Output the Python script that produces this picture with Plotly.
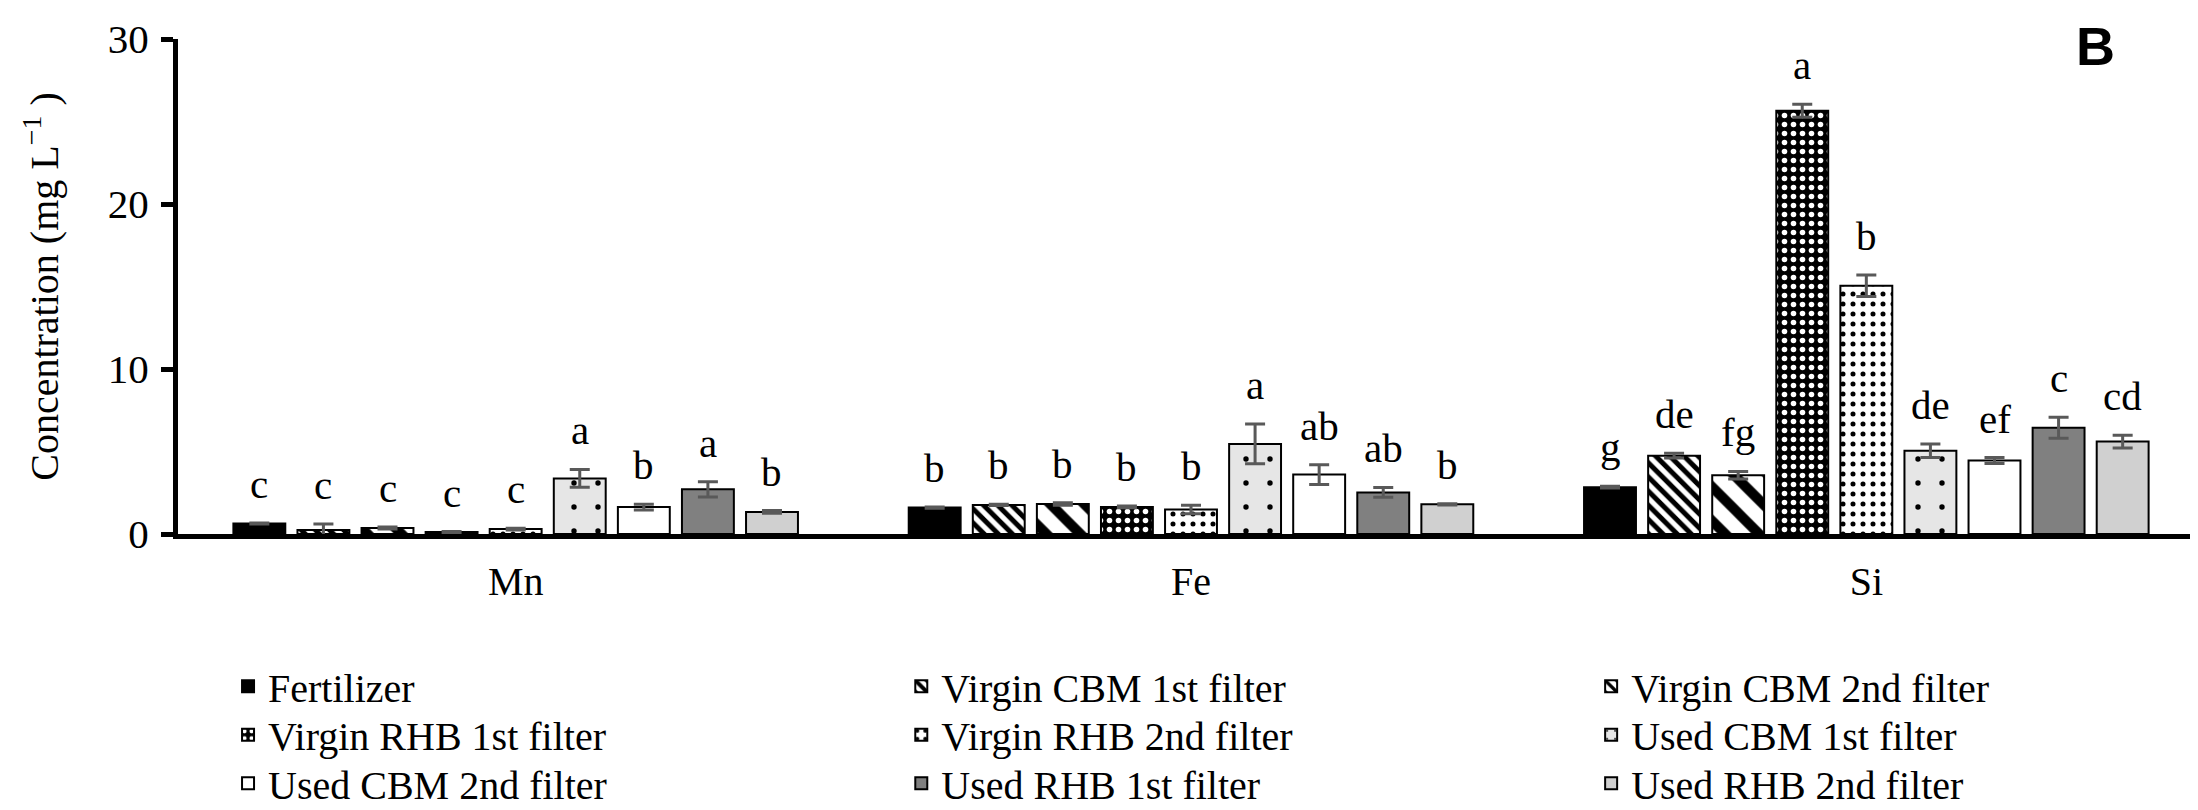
import plotly.graph_objects as go

elements = ["Mn", "Fe", "Si"]
series_names = [
    "Fertilizer", "Virgin CBM 1st filter", "Virgin CBM 2nd filter",
    "Virgin RHB 1st filter", "Virgin RHB 2nd filter", "Used CBM 1st filter",
    "Used CBM 2nd filter", "Used RHB 1st filter", "Used RHB 2nd filter",
]

fertilizer = [0.64, 1.60, 2.84]
fertilizer_err = [0.03, 0.04, 0.05]
fertilizer_sig = ["c", "b", "g"]

virgin_cbm1 = [0.25, 1.76, 4.75]
virgin_cbm1_err = [0.35, 0.04, 0.15]
virgin_cbm1_sig = ["c", "b", "de"]

virgin_cbm2 = [0.37, 1.82, 3.56]
virgin_cbm2_err = [0.06, 0.08, 0.23]
virgin_cbm2_sig = ["c", "b", "fg"]

virgin_rhb1 = [0.12, 1.64, 25.65]
virgin_rhb1_err = [0.03, 0.05, 0.39]
virgin_rhb1_sig = ["c", "b", "a"]

virgin_rhb2 = [0.30, 1.48, 15.05]
virgin_rhb2_err = [0.05, 0.26, 0.65]
virgin_rhb2_sig = ["c", "b", "b"]

used_cbm1 = [3.37, 5.46, 5.05]
used_cbm1_err = [0.54, 1.20, 0.41]
used_cbm1_sig = ["a", "a", "de"]

used_cbm2 = [1.63, 3.60, 4.45]
used_cbm2_err = [0.17, 0.60, 0.18]
used_cbm2_sig = ["b", "ab", "ef"]

used_rhb1 = [2.71, 2.52, 6.44]
used_rhb1_err = [0.46, 0.30, 0.63]
used_rhb1_sig = ["a", "ab", "c"]

used_rhb2 = [1.34, 1.80, 5.60]
used_rhb2_err = [0.08, 0.04, 0.39]
used_rhb2_sig = ["b", "b", "cd"]

values = [fertilizer, virgin_cbm1, virgin_cbm2, virgin_rhb1, virgin_rhb2,
          used_cbm1, used_cbm2, used_rhb1, used_rhb2]
errors = [fertilizer_err, virgin_cbm1_err, virgin_cbm2_err, virgin_rhb1_err,
          virgin_rhb2_err, used_cbm1_err, used_cbm2_err, used_rhb1_err, used_rhb2_err]
letters = [fertilizer_sig, virgin_cbm1_sig, virgin_cbm2_sig, virgin_rhb1_sig,
           virgin_rhb2_sig, used_cbm1_sig, used_cbm2_sig, used_rhb1_sig, used_rhb2_sig]

# styles
styles = [
    dict(color="black", pattern=None),
    dict(color="white", pattern=dict(shape="\\", fgcolor="black", bgcolor="white", size=10, solidity=0.5, fillmode="replace")),
    dict(color="white", pattern=dict(shape="\\", fgcolor="black", bgcolor="white", size=24, solidity=0.42, fillmode="replace")),
    dict(color="black", pattern=dict(shape=".", fgcolor="white", bgcolor="black", size=9, solidity=0.3, fillmode="replace")),
    dict(color="white", pattern=dict(shape=".", fgcolor="black", bgcolor="white", size=10, solidity=0.2, fillmode="replace")),
    dict(color="#e6e6e6", pattern=dict(shape=".", fgcolor="black", bgcolor="#e6e6e6", size=24, solidity=0.04, fillmode="replace")),
    dict(color="white", pattern=None),
    dict(color="#808080", pattern=None),
    dict(color="#d0d0d0", pattern=None),
]

SERIF = "Liberation Serif, Times New Roman, serif"
BARGAP = 0.146
GROUPGAP = 0.19
legend_ids = ["legend"] + [f"legend{i}" for i in range(2, 10)]
legend_x = [0.0247, 0.357, 0.6975]
legend_y = [-0.242, -0.34, -0.438]

fig = go.Figure()
for k, name in enumerate(series_names):
    st = styles[k]
    marker = dict(color=st["color"], line=dict(color="black", width=2))
    if st["pattern"] is not None:
        marker["pattern"] = st["pattern"]
    fig.add_trace(go.Bar(
        x=elements, y=values[k], name=name, marker=marker,
        error_y=dict(type="data", array=errors[k], visible=True,
                     color="#595959", thickness=3, width=10),
        legend=legend_ids[k],
    ))

# significance letters
slot = (1 - BARGAP) / len(series_names)
annotations = []
for k in range(len(series_names)):
    for gi in range(len(elements)):
        annotations.append(dict(
            x=gi + (k - (len(series_names) - 1) / 2) * slot,
            y=values[k][gi] + errors[k][gi],
            xref="x", yref="y", text=letters[k][gi], showarrow=False,
            yanchor="bottom", yshift=14,
            font=dict(family=SERIF, size=41, color="black"),
        ))
annotations.append(dict(
    x=0.957, y=0.985, xref="paper", yref="paper", text="<b>B</b>",
    showarrow=False, xanchor="right", yanchor="middle",
    font=dict(family="Liberation Sans, Arial, sans-serif", size=54, color="black"),
))

legend_layouts = {}
for k, lid in enumerate(legend_ids):
    legend_layouts[lid] = dict(
        orientation="v", yanchor="top", xanchor="left",
        x=legend_x[k % 3], y=legend_y[k // 3],
        font=dict(family=SERIF, size=40, color="black"),
        bgcolor="rgba(0,0,0,0)", tracegroupgap=0, itemwidth=30,
    )

fig.update_layout(
    width=2198, height=810,
    margin=dict(l=170, r=2, t=31, b=279),
    paper_bgcolor="white", plot_bgcolor="white",
    barmode="group", bargap=BARGAP, bargroupgap=GROUPGAP,
    font=dict(family=SERIF, size=40, color="black"),
    showlegend=True,
    annotations=annotations,
    xaxis=dict(
        type="category", range=[-0.5, 2.5], showline=True, linecolor="black",
        linewidth=5, ticks="", showgrid=False, zeroline=False,
        tickfont=dict(family=SERIF, size=40, color="black"),
        ticklabelstandoff=8,
    ),
    yaxis=dict(
        range=[0, 30], tickvals=[0, 10, 20, 30], showline=True, linecolor="black",
        linewidth=5, ticks="outside", ticklen=12, tickwidth=5, tickcolor="black",
        showgrid=False, zeroline=False,
        tickfont=dict(family=SERIF, size=41, color="black"),
        ticklabelstandoff=4,
        title=dict(text="Concentration (mg L<sup>\u22121</sup> )",
                   font=dict(family=SERIF, size=40, color="black"), standoff=38),
        automargin=False,
    ),
    **legend_layouts,
)

fig.write_html("out.html")
